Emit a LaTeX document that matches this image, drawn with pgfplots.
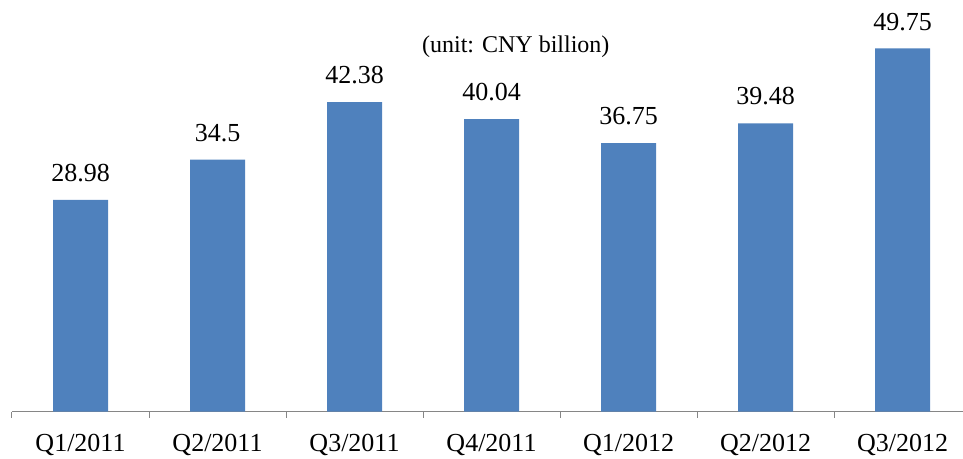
\documentclass[border=0pt]{standalone}
\usepackage{fontspec}
\setmainfont{Liberation Serif}
\usepackage{pgfplots}
\pgfplotsset{compat=1.18}
\definecolor{barblue}{HTML}{4F81BD}
\definecolor{axgray}{HTML}{868686}
\begin{document}
\begin{tikzpicture}
\useasboundingbox (0,0) rectangle (963pt,458pt);
\begin{axis}[
  at={(12pt,46.5pt)}, anchor=south west,
  scale only axis, width=951pt, height=411.5pt,
  xmin=-0.5, xmax=6.4416, ymin=0, ymax=56.37,
  clip=false,
  axis x line*=bottom, axis y line=none,
  x axis line style={axgray, line width=1pt, -},
  xtick={0,...,6},
  xticklabels={Q1/2011,Q2/2011,Q3/2011,Q4/2011,Q1/2012,Q2/2012,Q3/2012},
  major tick length=0pt,
  minor xtick={-0.5,0.5,...,6.5},
  minor tick length=6pt,
  tick align=outside,
  tick style={axgray, line width=1pt},
  xticklabel style={font=\fontsize{26}{30}\selectfont, anchor=base, inner sep=0pt, yshift=-39.5pt},
  ybar, bar width=55pt,
  nodes near coords,
  /pgf/number format/.cd, fixed, precision=2, assume math mode=true,
  /pgfplots/.cd,
  every node near coord/.append style={font=\fontsize{26}{30}\selectfont, anchor=base, inner sep=0pt, yshift=18.3pt, text=black},
]
\addplot[draw=none, fill=barblue] coordinates {
  (0,28.98) (1,34.5) (2,42.38) (3,40.04) (4,36.75) (5,39.48) (6,49.75)
};
\end{axis}
\node[font=\fontsize{24}{28}\selectfont, anchor=base] at (515.8pt,405pt) {(unit: CNY billion)};
\end{tikzpicture}
\end{document}
